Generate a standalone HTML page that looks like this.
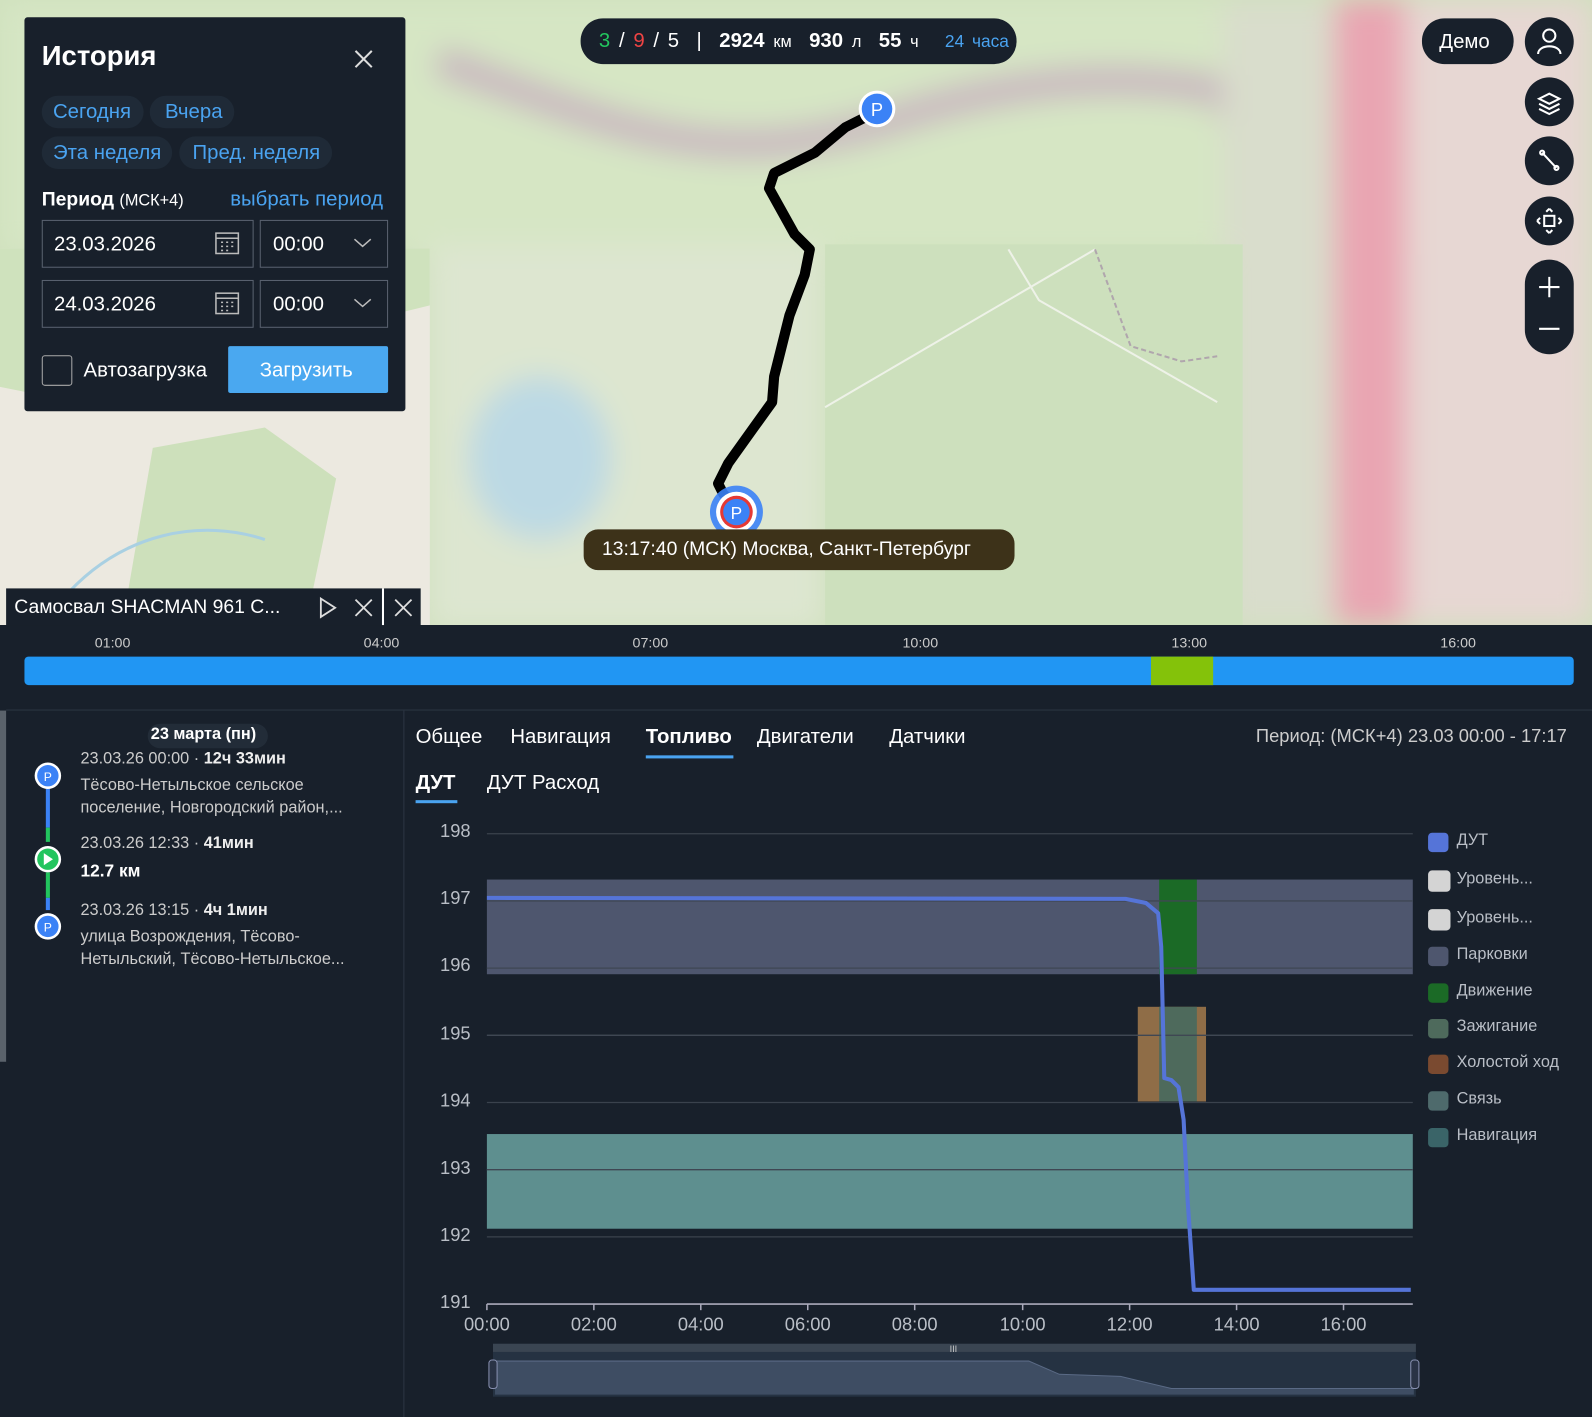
<!DOCTYPE html>
<html><head><meta charset="utf-8"><style>
html,body{margin:0;padding:0;width:1592px;height:1417px;overflow:hidden;background:#18202b;font-family:"Liberation Sans","DejaVu Sans",sans-serif}
#w{position:absolute;left:0;top:0;width:1563px;height:1392px;transform:scale(1.0186,1.018);transform-origin:0 0;color:#fff}
.a{position:absolute}
.btn{position:absolute;width:48px;height:48px;border-radius:50%;background:#18202b;left:1497px}
.t{position:absolute;font-size:19px;color:#fff;white-space:nowrap}
.lg{position:absolute;left:1402px;width:20px;height:19px;border-radius:4px}
.lt{position:absolute;left:1430px;font-size:16px;color:#b9bec6;white-space:nowrap}
.yl{position:absolute;left:432px;font-size:18px;color:#b9bec6}
.xl{position:absolute;font-size:18px;color:#b9bec6;width:60px;text-align:center}
</style></head><body><div id="w">
<svg class="a" style="left:0;top:0" width="1563" height="614">
<defs><filter id="b"><feGaussianBlur stdDeviation="14"/></filter></defs>
<rect width="1563" height="614" fill="#cfe0bd"/>
<g filter="url(#b)">
<rect x="0" y="0" width="1563" height="250" fill="#d6e6c4"/>
<rect x="420" y="240" width="390" height="380" fill="#dde6d0"/>
<ellipse cx="530" cy="450" rx="70" ry="80" fill="#bcd9e4"/>
<path d="M430 60 C600 120 700 180 900 110 C1000 80 1100 70 1200 90 L1250 200" stroke="#c9b7c0" stroke-width="30" fill="none"/>
<rect x="1300" y="0" width="80" height="614" fill="#e9a5b2"/>
<rect x="1380" y="0" width="183" height="614" fill="#e7d7d3"/>
<rect x="1200" y="0" width="110" height="614" fill="#d9ddcc"/>
</g>
<rect x="810" y="240" width="410" height="374" fill="#cde0bd"/>
<path d="M810 400 L1075 245 M990 245 L1020 295 L1195 395" stroke="#eef2e8" stroke-width="2" fill="none"/>
<path d="M1075 245 L1110 340 L1160 355 L1195 350" stroke="#b0a6ad" stroke-width="2" stroke-dasharray="5 3" fill="none"/>
<rect x="0" y="244" width="422" height="370" fill="#ece9e0"/>
<path d="M0 244 L422 244 L422 300 L300 330 L250 300 L200 380 L100 400 L0 380Z" fill="#cfe2bd"/>
<path d="M150 440 L260 420 L330 470 L300 614 L120 614Z" fill="#cde0bb"/>
<path d="M60 590 C120 520 200 510 260 530" stroke="#a9d0e2" stroke-width="3" fill="none"/>
<path d="M860 110 L830 125 L800 150 L760 170 L755 185 L780 230 L795 245 L790 270 L775 310 L760 370 L758 395 L740 420 L715 455 L705 475 L710 485 L720 495" stroke="#000" stroke-width="10" fill="none" stroke-linejoin="round"/>
<circle cx="861" cy="107" r="18" fill="#fff"/><circle cx="861" cy="107" r="15" fill="#3b82f6"/>
<text x="861" y="114" fill="#fff" font-size="18" text-anchor="middle" font-family="Liberation Sans">P</text>
<circle cx="723" cy="503" r="26" fill="#3b82f6" opacity=".9"/><circle cx="723" cy="503" r="20" fill="#fff"/><circle cx="723" cy="503" r="16" fill="#e53935"/><circle cx="723" cy="503" r="13" fill="#3b82f6"/>
<text x="723" y="510" fill="#fff" font-size="17" text-anchor="middle" font-family="Liberation Sans">P</text>
</svg>
<div class="a" style="left:573px;top:520px;width:423px;height:40px;border-radius:14px;background:#3d3219"></div>
<div class="t" style="left:591px;top:529px;font-size:19px">13:17:40 (МСК) Москва, Санкт-Петербург</div>
<div class="a" style="left:570px;top:18px;width:428px;height:45px;border-radius:22px;background:#18202b"></div>
<div class="t" style="left:588px;top:29px;font-size:20px;word-spacing:3px"><span style="color:#22c55e">3</span> / <span style="color:#ef4444">9</span> / 5 &nbsp;| &nbsp;<b>2924</b> <span style="font-size:16px">км</span> &nbsp;<b>930</b> <span style="font-size:16px">л</span> &nbsp;<b>55</b> <span style="font-size:16px">ч</span> &nbsp; <span style="color:#4aa3f0;font-size:17px">24 часа</span></div>
<div class="a" style="left:1396px;top:18px;width:90px;height:45px;border-radius:22px;background:#18202b"></div>
<div class="t" style="left:1413px;top:30px;font-size:20px">Демо</div>
<div class="btn" style="top:17px"></div><div class="btn" style="top:76px"></div><div class="btn" style="top:134px"></div><div class="btn" style="top:193px"></div>
<div class="a" style="left:1497px;top:255px;width:48px;height:93px;border-radius:24px;background:#18202b"></div>
<svg class="a" style="left:1497px;top:17px" width="48" height="340" fill="none" stroke="#fff" stroke-width="2">
<circle cx="24" cy="18" r="6"/><path d="M13 36 C13 26 35 26 35 36"/>
<path d="M14 80 L24 75 L34 80 L24 85Z M14 85 L24 90 L34 85 M14 90 L24 95 L34 90"/>
<path d="M17 133 L31 148"/><circle cx="17" cy="133" r="2"/><circle cx="31" cy="148" r="2"/>
<rect x="19" y="195" width="10" height="10"/><path d="M24 188 L21 191 M24 188 L27 191 M24 212 L21 209 M24 212 L27 209 M12 200 L15 197 M12 200 L15 203 M36 200 L33 197 M36 200 L33 203"/>
<path d="M14 265 L34 265 M24 255 L24 275 M14 306 L34 306"/>
</svg>
<div class="a" style="left:24px;top:17px;width:374px;height:387px;background:#18202b;border-radius:3px"></div>
<div class="t" style="left:41px;top:40px;font-size:27px;font-weight:bold">История</div>
<svg class="a" style="left:347px;top:48px" width="20" height="20" stroke="#ddd" stroke-width="2"><path d="M2 2L18 18M18 2L2 18"/></svg>
<div class="a" style="left:41px;top:94px;width:100px;height:32px;border-radius:16px;background:#1f2a37"></div>
<div class="a" style="left:147px;top:94px;width:83px;height:32px;border-radius:16px;background:#1f2a37"></div>
<div class="a" style="left:41px;top:134px;width:128px;height:32px;border-radius:16px;background:#1f2a37"></div>
<div class="a" style="left:176px;top:134px;width:150px;height:32px;border-radius:16px;background:#1f2a37"></div>
<div class="t" style="left:52px;top:99px;color:#4aa3f0;font-size:20px">Сегодня</div>
<div class="t" style="left:162px;top:99px;color:#4aa3f0;font-size:20px">Вчера</div>
<div class="t" style="left:52px;top:139px;color:#4aa3f0;font-size:20px">Эта неделя</div>
<div class="t" style="left:189px;top:139px;color:#4aa3f0;font-size:20px">Пред. неделя</div>
<div class="t" style="left:41px;top:186px;font-size:19px"><b>Период</b> <span style="font-size:16px">(МСК+4)</span></div>
<div class="t" style="left:226px;top:185px;color:#4aa3f0;font-size:20px">выбрать период</div>
<div class="a" style="left:41px;top:216px;width:206px;height:45px;border:1px solid #5a6270"></div>
<div class="a" style="left:255px;top:216px;width:124px;height:45px;border:1px solid #5a6270"></div>
<div class="a" style="left:41px;top:275px;width:206px;height:45px;border:1px solid #5a6270"></div>
<div class="a" style="left:255px;top:275px;width:124px;height:45px;border:1px solid #5a6270"></div>
<div class="t" style="left:53px;top:229px;font-size:20px">23.03.2026</div>
<div class="t" style="left:268px;top:229px;font-size:20px">00:00</div>
<div class="t" style="left:53px;top:288px;font-size:20px">24.03.2026</div>
<div class="t" style="left:268px;top:288px;font-size:20px">00:00</div>
<svg class="a" style="left:210px;top:226px" width="160" height="90" fill="none" stroke="#bbb" stroke-width="1.5">
<rect x="2" y="3" width="22" height="20"/><path d="M2 8H24M7 12h2M12 12h2M17 12h2M7 16h2M12 16h2M17 16h2M7 20h2M12 20h2"/>
<rect x="2" y="62" width="22" height="20"/><path d="M2 67H24M7 71h2M12 71h2M17 71h2M7 75h2M12 75h2M17 75h2M7 79h2M12 79h2"/>
<path d="M138 9 L146 16 L154 9 M138 68 L146 75 L154 68"/>
</svg>
<div class="a" style="left:41px;top:349px;width:28px;height:28px;border:1.5px solid #aaa;border-radius:3px"></div>
<div class="t" style="left:82px;top:353px;font-size:20px">Автозагрузка</div>
<div class="a" style="left:224px;top:340px;width:157px;height:46px;background:#4aa8f0;border-radius:2px"></div>
<div class="t" style="left:255px;top:353px;font-size:20px">Загрузить</div>
<div class="a" style="left:6px;top:578px;width:407px;height:37px;background:#18202b"></div>
<div class="a" style="left:375px;top:578px;width:2px;height:37px;background:#fff"></div>
<div class="t" style="left:14px;top:586px;font-size:19px">Самосвал SHACMAN 961 С...</div>
<svg class="a" style="left:312px;top:586px" width="96" height="22" fill="none" stroke="#ddd" stroke-width="1.8"><path d="M3 2 L17 11 L3 20Z M37 3 L53 19 M53 3 L37 19 M76 3 L92 19 M92 3 L76 19"/></svg>
<div class="a" style="left:0;top:614px;width:1563px;height:84px;background:#18202b"></div>
<div class="a" style="left:6px;top:697px;width:1557px;height:1px;background:#2c3542"></div>
<div class="a" style="left:24px;top:645px;width:1521px;height:28px;background:#2196f3;border-radius:4px"></div>
<div class="a" style="left:1130px;top:645px;width:61px;height:28px;background:#84c20a"></div>
<div class="t" style="left:93px;top:623px;font-size:14px;color:#ccc">01:00</div>
<div class="t" style="left:357px;top:623px;font-size:14px;color:#ccc">04:00</div>
<div class="t" style="left:621px;top:623px;font-size:14px;color:#ccc">07:00</div>
<div class="t" style="left:886px;top:623px;font-size:14px;color:#ccc">10:00</div>
<div class="t" style="left:1150px;top:623px;font-size:14px;color:#ccc">13:00</div>
<div class="t" style="left:1414px;top:623px;font-size:14px;color:#ccc">16:00</div>
<div class="a" style="left:0;top:698px;width:6px;height:345px;background:#5a626b"></div>
<div class="a" style="left:396px;top:698px;width:1px;height:694px;background:#2c3542"></div>
<div class="a" style="left:145px;top:711px;width:118px;height:24px;border-radius:12px;background:#222c38"></div>
<div class="t" style="left:148px;top:713px;font-size:16px;font-weight:bold">23 марта (пн)</div>
<div class="a" style="left:45px;top:773px;width:4px;height:40px;background:#3b82f6"></div>
<div class="a" style="left:45px;top:813px;width:4px;height:14px;background:#22c55e"></div>
<div class="a" style="left:45px;top:857px;width:4px;height:25px;background:#22c55e"></div>
<div class="a" style="left:45px;top:882px;width:4px;height:12px;background:#3b82f6"></div>
<svg class="a" style="left:32px;top:746px" width="30" height="180">
<circle cx="15" cy="16" r="13" fill="#fff"/><circle cx="15" cy="16" r="10.5" fill="#3b82f6"/><text x="15" y="21" font-size="12" fill="#fff" text-anchor="middle" font-family="Liberation Sans">P</text>
<circle cx="15" cy="98" r="13" fill="#fff"/><circle cx="15" cy="98" r="10.5" fill="#22c55e"/><path d="M11 92 L20 98 L11 104Z" fill="#fff"/>
<circle cx="15" cy="164" r="13" fill="#fff"/><circle cx="15" cy="164" r="10.5" fill="#3b82f6"/><text x="15" y="169" font-size="12" fill="#fff" text-anchor="middle" font-family="Liberation Sans">P</text>
</svg>
<div class="t" style="left:79px;top:737px;font-size:16px;color:#ccc">23.03.26 00:00 · <b style="color:#eee">12ч 33мин</b></div>
<div class="t" style="left:79px;top:761px;font-size:16px;color:#ccc;line-height:22px">Тёсово-Нетыльское сельское<br>поселение, Новгородский район,...</div>
<div class="t" style="left:79px;top:820px;font-size:16px;color:#ccc">23.03.26 12:33 · <b style="color:#eee">41мин</b></div>
<div class="t" style="left:79px;top:846px;font-size:17px;font-weight:bold">12.7 км</div>
<div class="t" style="left:79px;top:886px;font-size:16px;color:#ccc">23.03.26 13:15 · <b style="color:#eee">4ч 1мин</b></div>
<div class="t" style="left:79px;top:910px;font-size:16px;color:#ccc;line-height:22px">улица Возрождения, Тёсово-<br>Нетыльский, Тёсово-Нетыльское...</div>
<div class="t" style="left:408px;top:713px;font-size:20px">Общее</div>
<div class="t" style="left:501px;top:713px;font-size:20px">Навигация</div>
<div class="t" style="left:634px;top:713px;font-size:20px;font-weight:bold">Топливо</div>
<div class="a" style="left:634px;top:742px;width:86px;height:3px;background:#4aa3f0"></div>
<div class="t" style="left:743px;top:713px;font-size:20px">Двигатели</div>
<div class="t" style="left:873px;top:713px;font-size:20px">Датчики</div>
<div class="t" style="left:1233px;top:713px;font-size:18px;color:#ccc">Период: (МСК+4) 23.03 00:00 - 17:17</div>
<div class="t" style="left:408px;top:758px;font-size:20px;font-weight:bold">ДУТ</div>
<div class="a" style="left:408px;top:786px;width:41px;height:3px;background:#4aa3f0"></div>
<div class="t" style="left:478px;top:758px;font-size:20px">ДУТ Расход</div>
<svg class="a" style="left:0;top:0" width="1563" height="1392">
<g stroke="#3a424d" stroke-width="1.3">
<line x1="478" x2="1387" y1="819" y2="819"/><line x1="478" x2="1387" y1="885" y2="885"/><line x1="478" x2="1387" y1="951" y2="951"/><line x1="478" x2="1387" y1="1017" y2="1017"/><line x1="478" x2="1387" y1="1083" y2="1083"/><line x1="478" x2="1387" y1="1149" y2="1149"/><line x1="478" x2="1387" y1="1215" y2="1215"/>
</g>
<rect x="478" y="864" width="909" height="93" fill="#4e566e"/>
<rect x="478" y="1114" width="909" height="93" fill="#5e8f8f"/>
<rect x="1138" y="864" width="37" height="93" fill="#1b6a26"/>
<rect x="1117" y="989" width="67" height="93" fill="#8f6d47"/>
<rect x="1138" y="989" width="37" height="93" fill="#4e6a5c"/>
<g stroke="#3f4753" stroke-width="1.3"><line x1="478" x2="1387" y1="885" y2="885"/><line x1="478" x2="1387" y1="951" y2="951"/><line x1="478" x2="1387" y1="1017" y2="1017"/><line x1="478" x2="1387" y1="1149" y2="1149"/></g>
<line x1="478" x2="1387" y1="1281" y2="1281" stroke="#aab" stroke-width="1.5"/>
<g stroke="#aab" stroke-width="1.5"><line x1="478" x2="478" y1="1281" y2="1287"/><line x1="583" x2="583" y1="1281" y2="1287"/><line x1="688" x2="688" y1="1281" y2="1287"/><line x1="793" x2="793" y1="1281" y2="1287"/><line x1="898" x2="898" y1="1281" y2="1287"/><line x1="1004" x2="1004" y1="1281" y2="1287"/><line x1="1109" x2="1109" y1="1281" y2="1287"/><line x1="1214" x2="1214" y1="1281" y2="1287"/><line x1="1319" x2="1319" y1="1281" y2="1287"/></g>
<path d="M478 882 L1105 883 L1125 887 L1137 897 L1140 930 L1143 1059 L1150 1061 L1157 1068 L1162 1100 L1166 1180 L1172 1267 L1385 1267" stroke="#5574d8" stroke-width="4" fill="none" stroke-linejoin="round"/>
<rect x="484" y="1320" width="906" height="52" fill="#253242"/>
<rect x="484" y="1320" width="906" height="8" fill="#3a4552"/>
<path d="M486 1337 L1010 1337 L1040 1350 L1100 1352 L1150 1364 L1388 1364 L1388 1370 L486 1370Z" fill="#3e4d63"/>
<path d="M486 1337 L1010 1337 L1040 1350 L1100 1352 L1150 1364 L1388 1364" stroke="#5a6a85" fill="none"/>
<rect x="480" y="1336" width="8" height="28" rx="3" fill="#2a3345" stroke="#8890b0"/>
<rect x="1385" y="1336" width="8" height="28" rx="3" fill="#2a3345" stroke="#8890b0"/>
<text x="936" y="1328" fill="#ccc" font-size="9" text-anchor="middle">III</text>
</svg>
<div class="yl" style="top:806px">198</div><div class="yl" style="top:872px">197</div><div class="yl" style="top:938px">196</div><div class="yl" style="top:1005px">195</div><div class="yl" style="top:1071px">194</div><div class="yl" style="top:1137px">193</div><div class="yl" style="top:1203px">192</div><div class="yl" style="top:1269px">191</div>
<div class="xl" style="left:448px;top:1291px">00:00</div><div class="xl" style="left:553px;top:1291px">02:00</div><div class="xl" style="left:658px;top:1291px">04:00</div><div class="xl" style="left:763px;top:1291px">06:00</div><div class="xl" style="left:868px;top:1291px">08:00</div><div class="xl" style="left:974px;top:1291px">10:00</div><div class="xl" style="left:1079px;top:1291px">12:00</div><div class="xl" style="left:1184px;top:1291px">14:00</div><div class="xl" style="left:1289px;top:1291px">16:00</div>
<div class="lg" style="top:818px;background:#5574d8"></div><div class="lt" style="top:817px">ДУТ</div>
<div class="lg" style="top:855px;background:#d4d4d4;width:22px;height:21px"></div><div class="lt" style="top:855px">Уровень...</div>
<div class="lg" style="top:893px;background:#d4d4d4;width:22px;height:21px"></div><div class="lt" style="top:893px">Уровень...</div>
<div class="lg" style="top:930px;background:#4e566e"></div><div class="lt" style="top:929px">Парковки</div>
<div class="lg" style="top:966px;background:#1b6a26"></div><div class="lt" style="top:965px">Движение</div>
<div class="lg" style="top:1001px;background:#4e6a5c"></div><div class="lt" style="top:1000px">Зажигание</div>
<div class="lg" style="top:1036px;background:#7a4a30"></div><div class="lt" style="top:1035px">Холостой ход</div>
<div class="lg" style="top:1072px;background:#4e6a6c"></div><div class="lt" style="top:1071px">Связь</div>
<div class="lg" style="top:1108px;background:#3a6468"></div><div class="lt" style="top:1107px">Навигация</div>
</div></body></html>
